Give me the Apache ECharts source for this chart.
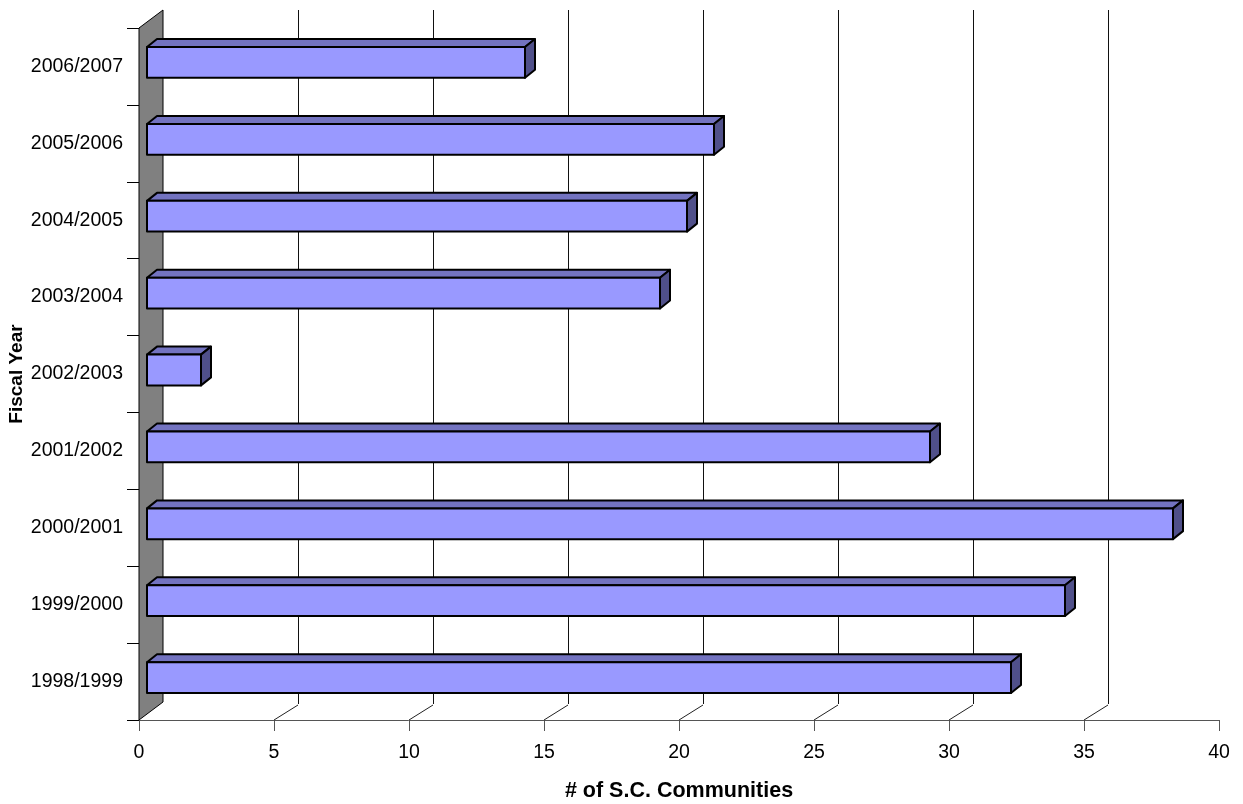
<!DOCTYPE html>
<html>
<head>
<meta charset="utf-8">
<script src="https://cdn.jsdelivr.net/npm/echarts@6/dist/echarts.min.js"></script>
<style>
html,body{margin:0;padding:0;background:#fff;}
#chart{width:1243px;height:804px;}
</style>
</head>
<body>
<div id="chart"></div>
<script>
const categories = ['1998/1999','1999/2000','2000/2001','2001/2002','2002/2003','2003/2004','2004/2005','2005/2006','2006/2007'];
const values = [32, 34, 38, 29, 2, 19, 20, 21, 14];
const xTicks = [0, 5, 10, 15, 20, 25, 30, 35, 40];

const FONT = '"Liberation Sans", Arial, sans-serif';
const WALL_DX = 24, WALL_DY = -18;   // depth of the 3D box
const BAR_DX = 10, BAR_DY = -8;      // depth of each bar
const BAR_SHIFT = 8;                 // bars sit a little inside the box

const chart = echarts.init(document.getElementById('chart'), null, {renderer: 'canvas'});

function renderFrame(params, api) {
  const cs = params.coordSys;
  const left = cs.x, top = cs.y, bottom = cs.y + cs.height;
  const children = [];
  // left wall
  children.push({
    type: 'polygon',
    shape: {points: [[left, top], [left + WALL_DX, top + WALL_DY], [left + WALL_DX, bottom + WALL_DY], [left, bottom]]},
    style: {fill: '#808080', stroke: '#000', lineWidth: 1}
  });
  // back gridlines + floor diagonals
  xTicks.forEach(function (v) {
    if (v === 0 || v === 40) return;
    const x = api.coord([v, 0])[0];
    const xb = Math.round(x + WALL_DX) + 0.5;
    children.push({
      type: 'line',
      shape: {x1: xb, y1: top + WALL_DY, x2: xb, y2: bottom + WALL_DY + 2},
      style: {stroke: '#111', lineWidth: 1}
    });
    children.push({
      type: 'line',
      shape: {x1: x, y1: bottom, x2: x + WALL_DX, y2: bottom + WALL_DY + 3},
      style: {stroke: '#222', lineWidth: 1}
    });
  });
  return {type: 'group', children: children};
}

function renderBar(params, api) {
  const val = api.value(0);
  const cat = api.value(1);
  const s = api.coord([0, cat]);
  const e = api.coord([val, cat]);
  const band = api.size([0, 1])[1];
  const h = band * 0.4;
  const x0 = s[0] + BAR_SHIFT, x1 = e[0] + BAR_SHIFT;
  const yc = s[1] - 4;
  const y0 = yc - h / 2, y1 = yc + h / 2;
  const ln = {stroke: '#000', lineWidth: 2, lineJoin: 'round'};
  return {
    type: 'group',
    children: [
      {type: 'polygon', shape: {points: [[x0, y0], [x1, y0], [x1 + BAR_DX, y0 + BAR_DY], [x0 + BAR_DX, y0 + BAR_DY]]},
       style: Object.assign({fill: '#7373C0'}, ln)},
      {type: 'polygon', shape: {points: [[x1, y0], [x1 + BAR_DX, y0 + BAR_DY], [x1 + BAR_DX, y1 + BAR_DY], [x1, y1]]},
       style: Object.assign({fill: '#50508A'}, ln)},
      {type: 'rect', shape: {x: x0, y: y0, width: x1 - x0, height: y1 - y0},
       style: Object.assign({fill: '#9999FF'}, ln)}
    ]
  };
}

chart.setOption({
  animation: false,
  backgroundColor: '#fff',
  grid: {left: 139, right: 24, top: 28, bottom: 84, containLabel: false, outerBoundsMode: 'none'},
  xAxis: {
    type: 'value', min: 0, max: 40, interval: 5,
    name: '# of S.C. Communities', nameLocation: 'middle', nameGap: 60, nameMoveOverlap: false,
    nameTextStyle: {fontFamily: FONT, fontSize: 21.5, fontWeight: 'bold', color: '#000'},
    axisLine: {show: true, lineStyle: {color: '#555', width: 1}},
    axisTick: {show: true, length: 11, lineStyle: {color: '#555'}},
    axisLabel: {fontFamily: FONT, fontSize: 19.5, color: '#000', margin: 23},
    splitLine: {show: false}
  },
  yAxis: {
    type: 'category', data: categories,
    name: 'Fiscal Year', nameLocation: 'middle', nameGap: 113, nameRotate: 90, nameMoveOverlap: false,
    nameTextStyle: {fontFamily: FONT, fontSize: 19, fontWeight: 'bold', color: '#000'},
    axisLine: {show: true, lineStyle: {color: '#000', width: 1}},
    axisTick: {show: true, length: 12, lineStyle: {color: '#000'}},
    axisLabel: {fontFamily: FONT, fontSize: 19.5, color: '#000', margin: 16},
    splitLine: {show: false}
  },
  series: [
    {type: 'custom', renderItem: renderFrame, data: [[0, 0]], silent: true, z: 1, clip: false},
    {type: 'custom', renderItem: renderBar, z: 2, clip: false,
     data: values.map(function (v, i) { return [v, i]; })}
  ]
});
</script>
</body>
</html>
